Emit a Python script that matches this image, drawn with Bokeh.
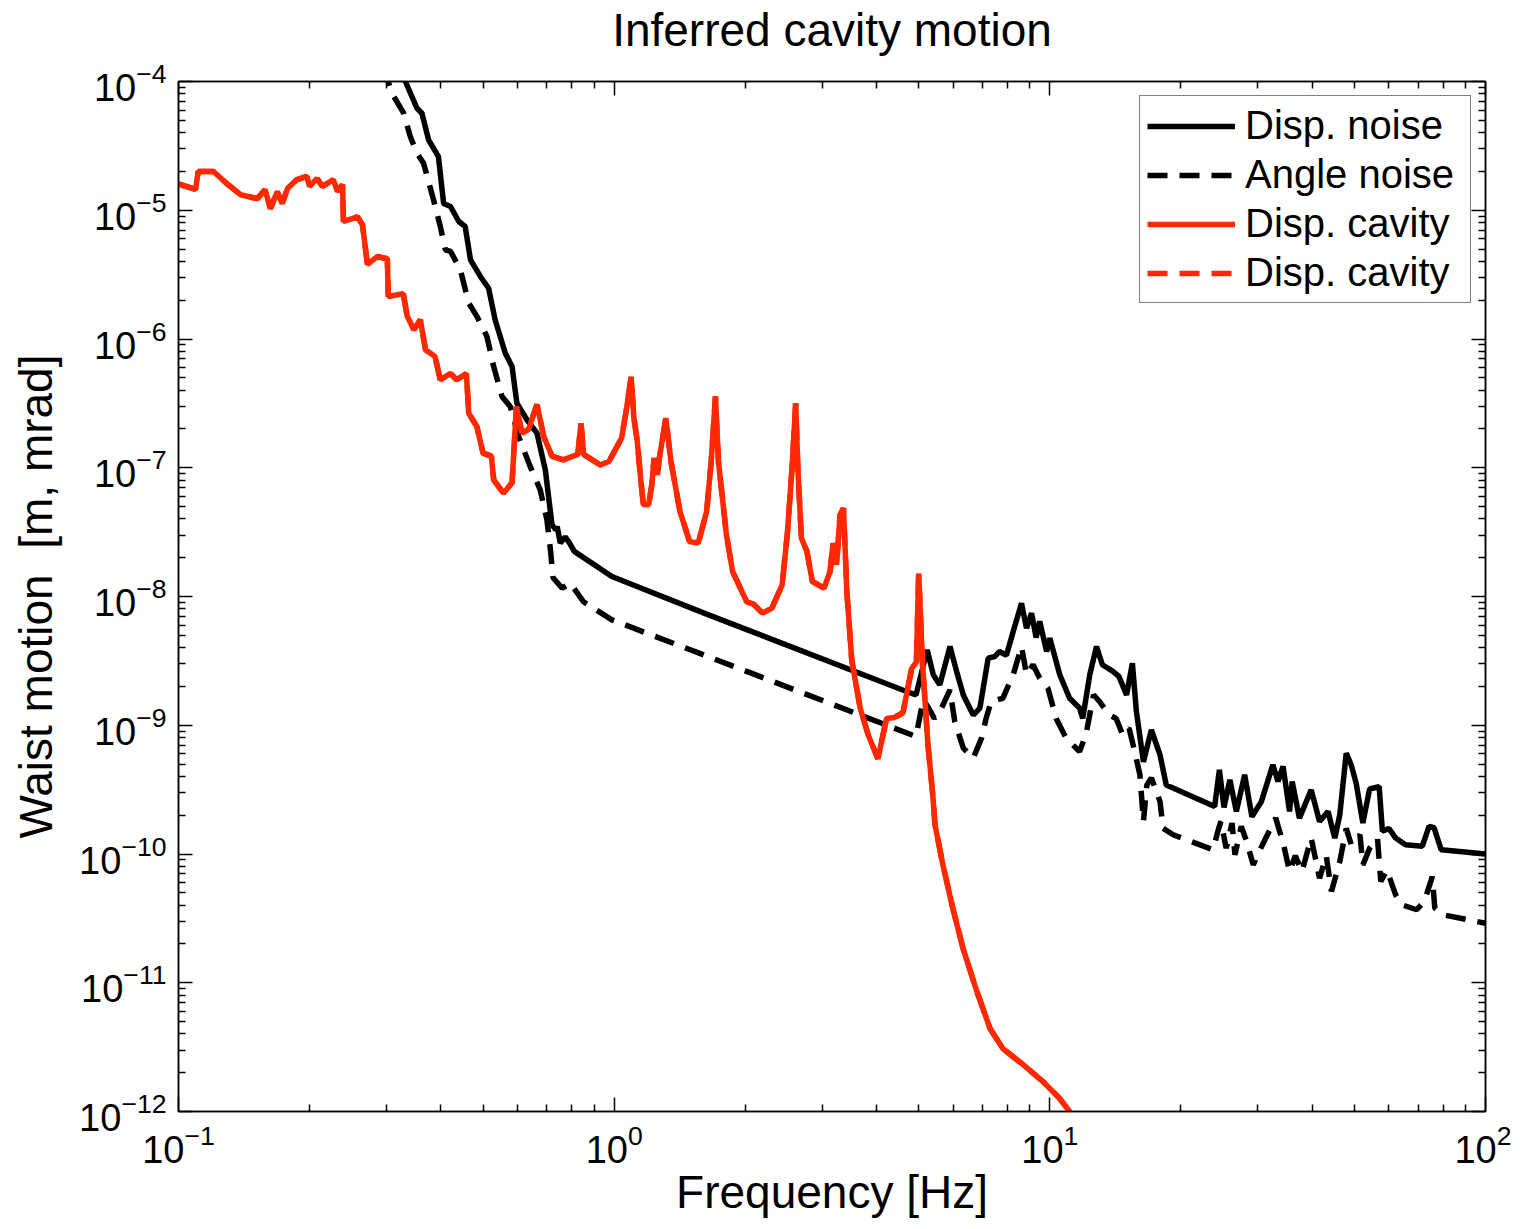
from bokeh.plotting import figure
from bokeh.models import FixedTicker, LogAxis, Legend, LegendItem, CustomJSTickFormatter, Spacer
from bokeh.layouts import row
from bokeh.embed import file_html
from bokeh.resources import INLINE

# ---------------- data ----------------
disp_noise_f = [0.32, 0.3317, 0.3527, 0.362, 0.375, 0.395, 0.406, 0.421, 0.44, 0.455,
                0.468, 0.493, 0.515, 0.533, 0.5625, 0.583, 0.598, 0.6305, 0.665, 0.695,
                0.72, 0.735, 0.74, 0.752, 0.772, 0.79, 0.81, 0.988, 1.63, 4.69,
                4.93, 5.23, 5.40, 5.59, 5.90, 6.11, 6.33, 6.67, 6.91, 7.22,
                7.48, 7.66, 7.95, 8.24, 8.61, 8.84, 9.08, 9.3, 9.48, 9.83,
                10.0, 10.54, 11.1, 11.7, 11.9, 12.35, 12.8, 13.2, 13.96, 14.4,
                15.0, 15.47, 15.8, 16.4, 17.1, 17.9, 18.5, 23.9, 24.5, 25.1,
                25.9, 26.8, 28.0, 29.1, 30.6, 32.5, 33.4, 34.3, 35.5, 36.0,
                37.4, 39.8, 41.6, 43.5, 45.1, 46.3, 47.9, 49.2, 50.5, 52.3,
                54.2, 57.0, 58.0, 60.0, 62.2, 65.5, 71.6, 74.2, 76.2, 79.1, 100.0]
disp_noise_v = [1.3e-4, 1.0e-4, 6.2e-5, 5.67e-5, 3.52e-5, 2.61e-5, 1.13e-5, 1.07e-5, 8.18e-6, 7.48e-6,
                4.12e-6, 3.06e-6, 2.48e-6, 1.41e-6, 7.76e-7, 6.11e-7, 3.17e-7, 2.36e-7, 1.86e-7, 9.64e-8,
                3.6e-8, 3.3e-8, 3.5e-8, 2.6e-8, 2.9e-8, 2.6e-8, 2.24e-8, 1.43e-8, 7.3e-9, 1.83e-9,
                1.72e-9, 3.85e-9, 2.47e-9, 2.06e-9, 4.09e-9, 2.62e-9, 1.72e-9, 1.2e-9, 1.36e-9, 3.32e-9,
                3.42e-9, 3.74e-9, 3.5e-9, 5.35e-9, 8.87e-9, 5.67e-9, 7.42e-9, 4.8e-9, 6.4e-9, 3.74e-9,
                4.74e-9, 2.47e-9, 1.62e-9, 1.36e-9, 1.13e-9, 2.47e-9, 4.09e-9, 2.95e-9, 2.62e-9, 2.4e-9,
                1.72e-9, 3.03e-9, 1.28e-9, 5.2e-10, 9.2e-10, 5.9e-10, 3.44e-10, 2.34e-10, 4.5e-10, 2.3e-10,
                3.77e-10, 2.14e-10, 4.12e-10, 1.95e-10, 2.56e-10, 4.93e-10, 3.66e-10, 4.8e-10, 2.14e-10, 3.66e-10,
                1.9e-10, 3.15e-10, 1.79e-10, 2.14e-10, 1.33e-10, 2.02e-10, 6.07e-10, 4.9e-10, 3.52e-10, 1.74e-10,
                3.2e-10, 3.34e-10, 1.5e-10, 1.58e-10, 1.33e-10, 1.18e-10, 1.15e-10, 1.64e-10, 1.6e-10, 1.08e-10, 1.0e-10]

angle_noise_f = [0.295, 0.303, 0.309, 0.3287, 0.3404, 0.3527, 0.3652, 0.385, 0.399, 0.4097,
                 0.421, 0.4436, 0.4636, 0.484, 0.5105, 0.529, 0.5526, 0.5775, 0.6035, 0.6418,
                 0.6765, 0.7009, 0.714, 0.724, 0.76, 0.793, 0.85, 0.988, 2.015, 4.93,
                 5.12, 5.27, 5.43, 5.64, 5.9, 6.05, 6.33, 6.67, 6.97, 7.14,
                 7.33, 7.8, 8.24, 8.61, 8.84, 9.15, 9.48, 9.9, 10.34, 10.9,
                 11.7, 12.1, 12.6, 13.0, 13.7, 14.2, 14.7, 15.2, 15.6, 16.1,
                 16.4, 16.7, 17.1, 17.9, 18.2, 19.2, 23.7, 24.3, 24.7, 25.4,
                 26.2, 26.6, 27.5, 28.3, 29.3, 30.5, 31.7, 33.0, 34.4, 35.5,
                 36.6, 37.9, 39.8, 41.6, 43.1, 44.3, 46.3, 47.9, 49.2, 51.5,
                 52.3, 54.2, 56.5, 57.5, 59.4, 62.2, 64.3, 69.5, 72.4, 75.5,
                 76.5, 79.9, 100.0]
angle_noise_v = [1.3e-4, 1.0e-4, 8.1e-5, 5.67e-5, 3.74e-5, 2.77e-5, 2.32e-5, 1.2e-5, 7.48e-6, 4.93e-6,
                 4.8e-6, 3.45e-6, 1.9e-6, 1.5e-6, 1.045e-6, 6.11e-7, 3.58e-7, 2.99e-7, 1.75e-7, 1.02e-7,
                 6.74e-8, 3.94e-8, 2.31e-8, 1.4e-8, 1.16e-8, 1.27e-8, 9.1e-9, 6.59e-9, 2.62e-9, 8.18e-10,
                 1.58e-9, 1.36e-9, 1.13e-9, 1.36e-9, 1.88e-9, 1.07e-9, 6.64e-10, 5.55e-10, 7.94e-10, 1.13e-9,
                 1.53e-9, 1.62e-9, 2.47e-9, 4.09e-9, 2.47e-9, 2.95e-9, 2.32e-9, 1.94e-9, 1.13e-9, 7.94e-10,
                 6.25e-10, 8.43e-10, 1.72e-9, 1.53e-9, 1.2e-9, 1.13e-9, 8.4e-10, 9.5e-10, 6.6e-10, 4.12e-10,
                 1.79e-10, 3.44e-10, 3.9e-10, 2.56e-10, 1.58e-10, 1.41e-10, 1.08e-10, 1.5e-10, 1.79e-10, 1.11e-10,
                 1.74e-10, 9.86e-11, 1.64e-10, 1.25e-10, 8.24e-11, 1.11e-10, 1.45e-10, 1.9e-10, 1.18e-10, 7.31e-11,
                 9.7e-11, 7.3e-11, 1.33e-10, 6.49e-11, 9.7e-11, 5.12e-11, 8.75e-11, 1.58e-10, 1.18e-10, 1.41e-10,
                 8.2e-11, 1.11e-10, 1.33e-10, 6.11e-11, 7.5e-11, 4.82e-11, 4.03e-11, 3.69e-11, 4.3e-11, 6.68e-11,
                 3.8e-11, 3.37e-11, 2.9e-11]

cavity_f = [0.1, 0.1094, 0.111, 0.1203, 0.13, 0.1388, 0.1517, 0.158, 0.1625, 0.1686,
            0.173, 0.178, 0.187, 0.197, 0.2, 0.208, 0.214, 0.2266, 0.2318, 0.238,
            0.2391, 0.2574, 0.2643, 0.2715, 0.286, 0.3015, 0.303, 0.328, 0.335, 0.347,
            0.359, 0.369, 0.388, 0.399, 0.421, 0.435, 0.458, 0.4636, 0.484, 0.5,
            0.5226, 0.529, 0.557, 0.583, 0.5965, 0.6143, 0.636, 0.665, 0.689, 0.72,
            0.764, 0.8253, 0.8393, 0.851, 0.9294, 0.973, 1.04, 1.068, 1.094, 1.11,
            1.13, 1.15, 1.167, 1.2, 1.22, 1.235, 1.257, 1.27, 1.314, 1.35,
            1.416, 1.49, 1.56, 1.63, 1.67, 1.708, 1.735, 1.81, 1.87, 2.015,
            2.09, 2.19, 2.3, 2.43, 2.5, 2.56, 2.61, 2.64, 2.69, 2.77,
            2.85, 3.03, 3.13, 3.18, 3.24, 3.3, 3.36, 3.42, 3.51, 3.67,
            3.83, 4.03, 4.22, 4.4, 4.6, 4.82, 4.94, 5.0, 5.1, 5.25,
            5.39, 5.45, 5.68, 5.99, 6.32, 6.80, 7.29, 7.80, 8.67, 9.64,
            10.54, 11.1, 12.0]
cavity_v = [1.6e-5, 1.45e-5, 2.0e-5, 2.0e-5, 1.58e-5, 1.32e-5, 1.23e-5, 1.45e-5, 1.03e-5, 1.4e-5,
            1.13e-5, 1.48e-5, 1.73e-5, 1.83e-5, 1.53e-5, 1.76e-5, 1.53e-5, 1.73e-5, 1.4e-5, 1.58e-5,
            8.2e-6, 8.9e-6, 7.75e-6, 3.8e-6, 4.37e-6, 4.2e-6, 2.14e-6, 2.25e-6, 1.5e-6, 1.18e-6,
            1.41e-6, 8.24e-7, 7.31e-7, 4.82e-7, 5.4e-7, 4.82e-7, 5.4e-7, 2.65e-7, 2.09e-7, 1.3e-7,
            1.23e-7, 8.05e-8, 6.34e-8, 7.66e-8, 2.99e-7, 1.86e-7, 1.99e-7, 3.1e-7, 1.75e-7, 1.23e-7,
            1.15e-7, 1.27e-7, 2.22e-7, 1.27e-7, 1.05e-7, 1.12e-7, 1.7e-7, 2.9e-7, 5.1e-7, 2.43e-7,
            1.6e-7, 8.3e-8, 5.15e-8, 5.15e-8, 7.4e-8, 1.19e-7, 8.8e-8, 1.19e-7, 2.43e-7, 1.12e-7,
            4.57e-8, 2.67e-8, 2.6e-8, 4.57e-8, 1.12e-7, 3.58e-7, 1.12e-7, 3.01e-8, 1.56e-8, 9.1e-9,
            8.7e-9, 7.42e-9, 8.1e-9, 1.23e-8, 3.2e-8, 9.9e-8, 3.17e-7, 9.9e-8, 2.84e-8, 2.24e-8,
            1.31e-8, 1.16e-8, 1.56e-8, 2.6e-8, 1.76e-8, 4.31e-8, 4.85e-8, 1.1e-8, 3.2e-9, 1.36e-9,
            8.4e-10, 5.5e-10, 1.13e-9, 1.15e-9, 1.25e-9, 2.77e-9, 3.1e-9, 1.51e-8, 3.1e-9, 7.1e-10,
            2.8e-10, 1.69e-10, 8.3e-11, 3.77e-11, 1.85e-11, 8.55e-12, 4.41e-12, 3.08e-12, 2.32e-12, 1.71e-12,
            1.26e-12, 1.0e-12, 7.0e-13]

cavity2_f = list(cavity_f)
cavity2_v = list(cavity_v)

legend_labels = ["Disp. noise", "Angle noise", "Disp. cavity", "Disp. cavity"]
x_ticks = [0.1, 1, 10, 100]
y_ticks = [1e-12, 1e-11, 1e-10, 1e-9, 1e-8, 1e-7, 1e-6, 1e-5, 1e-4]

# ---------------- styling ----------------
FONT = "Liberation Sans"
RED = "#ff2800"
LW = 5.5
DASH = "20 12"

x_minor = [m * d for d in (0.1, 1, 10) for m in range(2, 10)]
y_minor = [m * d for d in y_ticks[:-1] for m in range(2, 10)]

p = figure(x_axis_type="log", y_axis_type="log",
           x_range=(0.1, 100), y_range=(1e-12, 1e-4),
           frame_width=1307, frame_height=1030,
           min_border_left=170, min_border_right=26, min_border_top=10, min_border_bottom=0,
           output_backend="svg", toolbar_location=None,
           title="Inferred cavity motion")
p.background_fill_color = "white"
p.border_fill_color = "white"
p.outline_line_color = "black"
p.outline_line_width = 1.5
p.grid.visible = False

p.title.text_font = FONT
p.title.text_font_size = "46px"
p.title.text_font_style = "normal"
p.title.text_color = "black"
p.title.align = "center"
p.title.standoff = 2

def style_axis(ax, ticks, minor, show_labels):
    ax.ticker = FixedTicker(ticks=ticks, minor_ticks=minor)
    ax.axis_line_color = "black"
    ax.axis_line_width = 1.5
    ax.major_tick_line_color = "black"
    ax.major_tick_line_width = 1.5
    ax.minor_tick_line_color = "black"
    ax.minor_tick_line_width = 1.5
    ax.major_tick_in = 14
    ax.major_tick_out = 0
    ax.minor_tick_in = 7
    ax.minor_tick_out = 0
    if show_labels:
        ax.major_label_text_font = FONT
        ax.major_label_text_font_size = "38px"
        ax.major_label_text_color = "black"
    else:
        ax.formatter = CustomJSTickFormatter(code="return ' ';")
        ax.major_label_text_font_size = "2px"
        ax.major_label_text_alpha = 0
        ax.major_label_standoff = 0

style_axis(p.xaxis[0], x_ticks, x_minor, True)
style_axis(p.yaxis[0], y_ticks, y_minor, True)
p.xaxis[0].major_label_standoff = 12
p.yaxis[0].major_label_standoff = 12

p.xaxis[0].axis_label = "Frequency [Hz]"
p.yaxis[0].axis_label = "Waist motion \u00a0[m, mrad]"
for ax in (p.xaxis[0], p.yaxis[0]):
    ax.axis_label_text_font = FONT
    ax.axis_label_text_font_size = "46px"
    ax.axis_label_text_font_style = "normal"
    ax.axis_label_text_color = "black"
p.xaxis[0].axis_label_standoff = 0
p.yaxis[0].axis_label_standoff = 14

right_ax = LogAxis()
style_axis(right_ax, y_ticks, y_minor, False)
p.add_layout(right_ax, "right")
top_ax = LogAxis()
style_axis(top_ax, x_ticks, x_minor, False)
top_ax.axis_label = "\u00a0"
top_ax.axis_label_text_font_size = "20px"
top_ax.axis_label_text_alpha = 0
top_ax.axis_label_standoff = 0
p.add_layout(top_ax, "above")

r1 = p.line(disp_noise_f, disp_noise_v, line_color="black", line_width=LW)
r2 = p.line(angle_noise_f, angle_noise_v, line_color="black", line_width=LW, line_dash=DASH)
r3 = p.line(cavity_f, cavity_v, line_color=RED, line_width=LW)
r4 = p.line(cavity2_f, cavity2_v, line_color=RED, line_width=LW, line_dash=DASH)

legend = Legend(items=[LegendItem(label=legend_labels[0], renderers=[r1]),
                       LegendItem(label=legend_labels[1], renderers=[r2]),
                       LegendItem(label=legend_labels[2], renderers=[r3]),
                       LegendItem(label=legend_labels[3], renderers=[r4])],
                location="top_right")
legend.label_text_font = FONT
legend.label_text_font_size = "40px"
legend.label_text_color = "black"
legend.glyph_width = 88
legend.glyph_height = 36
legend.label_height = 36
legend.label_width = 218
legend.spacing = 4
legend.padding = 7
legend.margin = 14
legend.label_standoff = 10
legend.border_line_color = "black"
legend.border_line_width = 1.5
legend.background_fill_color = "white"
legend.background_fill_alpha = 1.0
p.add_layout(legend)

page = row(Spacer(width=7, height=10), p)

open("out.html", "w").write(file_html(page, INLINE))
